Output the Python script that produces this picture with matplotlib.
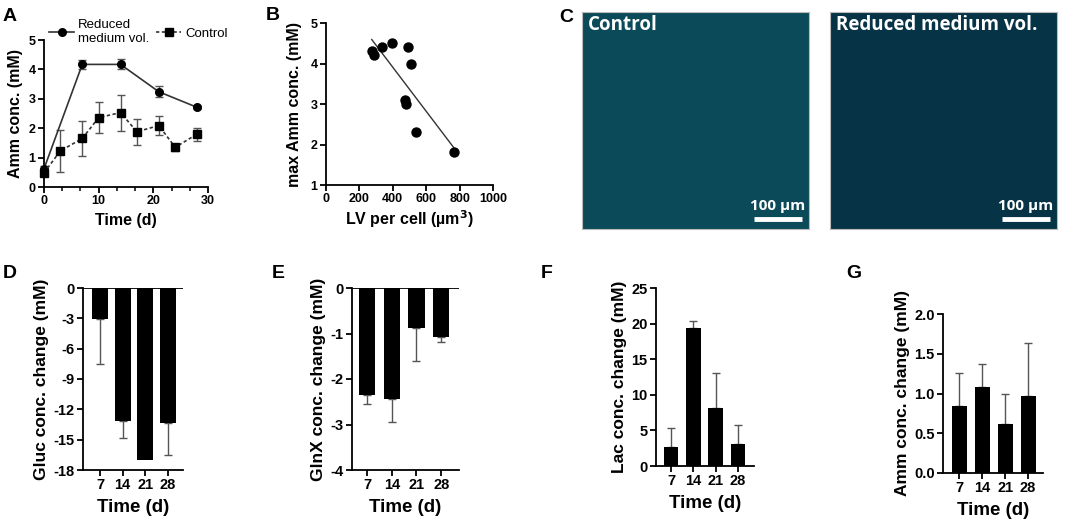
import numpy as np
import matplotlib
matplotlib.use('Agg')
import matplotlib.pyplot as plt
from matplotlib.ticker import AutoMinorLocator

# ---- data ----
reduced_days = [0, 7, 14, 21, 28]
reduced_amm = [0.62, 4.17, 4.17, 3.24, 2.71]
reduced_err = [0.10, 0.14, 0.17, 0.19, 0.05]

control_days = [0, 3, 7, 10, 14, 17, 21, 24, 28]
control_amm = [0.48, 1.23, 1.65, 2.36, 2.53, 1.88, 2.09, 1.35, 1.80]
control_err = [0.10, 0.72, 0.59, 0.54, 0.61, 0.44, 0.33, 0.12, 0.22]

lv_per_cell = [274, 288, 338, 394, 494, 510, 474, 478, 538, 764]
max_amm = [4.31, 4.21, 4.41, 4.50, 4.41, 4.00, 3.11, 3.01, 2.30, 1.81]

bar_days = ['7', '14', '21', '28']
gluc_change = [-3.05, -13.2, -17.0, -13.35]
gluc_err = [4.45, 1.65, 0.0, 3.2]
glnx_change = [-2.35, -2.44, -0.88, -1.08]
glnx_err = [0.20, 0.50, 0.73, 0.11]
lac_change = [2.68, 19.45, 8.18, 3.05]
lac_err = [2.68, 0.95, 4.92, 2.73]
amm_change = [0.84, 1.08, 0.62, 0.97]
amm_err = [0.42, 0.29, 0.38, 0.66]

plt.rcParams['font.family'] = ['Liberation Sans', 'DejaVu Sans']
plt.rcParams['font.weight'] = 'bold'
plt.rcParams['axes.labelweight'] = 'bold'
plt.rcParams['axes.linewidth'] = 1.3
plt.rcParams['xtick.major.width'] = 1.3
plt.rcParams['ytick.major.width'] = 1.3
plt.rcParams['xtick.minor.width'] = 1.1
plt.rcParams['xtick.major.size'] = 4
plt.rcParams['ytick.major.size'] = 4
plt.rcParams['xtick.minor.size'] = 3

W, H = 1065, 520
fig = plt.figure(figsize=(W / 100, H / 100), dpi=100)


def box(l, t, r, b):
    return [l / W, 1 - b / H, (r - l) / W, (b - t) / H]


def style(ax, tick_size=9):
    for s in ['top', 'right']:
        ax.spines[s].set_visible(False)
    ax.tick_params(labelsize=tick_size, pad=2)
    for lab in ax.get_xticklabels() + ax.get_yticklabels():
        lab.set_fontweight('bold')


# ---- A ----
axA = fig.add_axes(box(44, 40, 208, 187))
axA.errorbar(reduced_days, reduced_amm, yerr=reduced_err, fmt='none', ecolor='#555555',
             elinewidth=1, capsize=3, clip_on=False)
axA.errorbar(control_days, control_amm, yerr=control_err, fmt='none', ecolor='#555555',
             elinewidth=1, capsize=3, clip_on=False)
axA.plot(reduced_days, reduced_amm, color='#333333', lw=1.2, marker='o', ms=5.5,
         mfc='black', mec='black', clip_on=False, label='Reduced\nmedium vol.')
axA.plot(control_days, control_amm, color='#333333', lw=1.2, ls=(0, (2, 1.5)),
         marker='s', ms=5.5, mfc='black', mec='black', clip_on=False, label='Control')
axA.set_xlim(0, 30)
axA.set_ylim(0, 5)
axA.set_xticks([0, 10, 20, 30])
axA.set_yticks([0, 1, 2, 3, 4, 5])
axA.xaxis.set_minor_locator(AutoMinorLocator(3))
axA.set_xlabel('Time (d)', fontsize=11.5, labelpad=4)
axA.set_ylabel('Amm conc. (mM)', fontsize=11.5, labelpad=4)
style(axA)
leg = axA.legend(ncol=2, loc='lower left', bbox_to_anchor=(0.0, 0.93), frameon=False,
                 fontsize=9.5, handlelength=1.9, columnspacing=0.5, handletextpad=0.3,
                 borderaxespad=0)
for t in leg.get_texts():
    t.set_fontweight('normal')

# ---- B ----
axB = fig.add_axes(box(326, 23, 493, 185))
axB.scatter(lv_per_cell, max_amm, s=42, color='black', zorder=3)
slope, intercept = np.polyfit(lv_per_cell, max_amm, 1)
xfit = np.array([min(lv_per_cell), max(lv_per_cell)])
axB.plot(xfit, slope * xfit + intercept, color='#333333', lw=1)
axB.set_xlim(0, 1000)
axB.set_ylim(1, 5)
axB.set_xticks(range(0, 1001, 200))
axB.set_yticks([1, 2, 3, 4, 5])
axB.set_xlabel(r'LV per cell (µm$^\mathbf{3}$)', fontsize=11.5, labelpad=2)
axB.set_ylabel('max Amm conc. (mM)', fontsize=11.5, labelpad=6)
style(axB)

# ---- C (image panels) ----
img_font = ['Open Sans', 'DejaVu Sans']
for rect, title, shade in [((582, 12, 809, 229), 'Control', '#0b4a58'),
                           ((830, 12, 1057, 229), 'Reduced medium vol.', '#063446')]:
    axc = fig.add_axes(box(*rect))
    axc.set_facecolor(shade)
    axc.set_xticks([])
    axc.set_yticks([])
    for s in axc.spines.values():
        s.set_color('#bbbbbb')
        s.set_linewidth(0.8)
    axc.text(0.025, 0.985, title, transform=axc.transAxes, color='white', fontsize=13.5,
             fontweight='bold', family=img_font, va='top', ha='left')
    axc.plot([0.758, 0.969], [0.046, 0.046], color='white', lw=3.5,
             transform=axc.transAxes, solid_capstyle='butt')
    axc.text(0.8635, 0.075, '100 µm', transform=axc.transAxes, color='white',
             fontsize=11, fontweight='bold', family=img_font, ha='center', va='bottom')


# ---- D-G bar panels ----
def bar_panel(rect, vals, errs, ylim, yticks, ylabel, xlim, width, fmt='{:g}'):
    ax = fig.add_axes(box(*rect))
    x = np.arange(len(vals))
    keep = [i for i, e in enumerate(errs) if e > 0]
    ex = x[keep]
    ev = [vals[i] for i in keep]
    ee = [errs[i] for i in keep]
    zeros = [0] * len(keep)
    if vals[0] < 0:
        yerr = [ee, zeros]
    else:
        yerr = [zeros, ee]
    ax.errorbar(ex, ev, yerr=yerr, fmt='none', ecolor='#555555', elinewidth=1,
                capsize=3, capthick=1, zorder=1)
    ax.bar(x, vals, width, color='black', zorder=2)
    ax.set_xlim(*xlim)
    ax.set_ylim(*ylim)
    ax.set_yticks(yticks)
    ax.set_yticklabels([fmt.format(v) for v in yticks])
    ax.set_xticks(x)
    ax.set_xticklabels(bar_days)
    if ylim[1] == 0:
        ax.axhline(0, color='black', lw=1.3, zorder=3)
    ax.set_xlabel('Time (d)', fontsize=13.5, labelpad=5)
    ax.set_ylabel(ylabel, fontsize=12.5, labelpad=3)
    style(ax, tick_size=10.5)
    return ax


bar_panel((83, 288, 183, 470), gluc_change, gluc_err, (-18, 0),
          [0, -3, -6, -9, -12, -15, -18], 'Gluc conc. change (mM)', (-0.75, 3.66), 0.7)
bar_panel((352, 288, 459, 470), glnx_change, glnx_err, (-4, 0),
          [0, -1, -2, -3, -4], 'GlnX conc. change (mM)', (-0.61, 3.72), 0.65)
bar_panel((656, 288, 754, 466), lac_change, lac_err, (0, 25),
          [0, 5, 10, 15, 20, 25], 'Lac conc. change (mM)', (-0.67, 3.72), 0.66)
bar_panel((943, 314, 1043, 473), amm_change, amm_err, (0, 2),
          [0, 0.5, 1.0, 1.5, 2.0], 'Amm conc. change (mM)', (-0.7, 3.65), 0.65,
          fmt='{:.1f}')

# ---- panel letters ----
for letter, x, y in [('A', 3, 21), ('B', 266, 20), ('C', 559, 22),
                     ('D', 3, 278), ('E', 272, 278), ('F', 541, 278), ('G', 846, 278)]:
    fig.text(x / W, 1 - y / H, letter, fontsize=14, fontweight='bold', va='baseline')

fig.savefig('out.png', dpi=100)
